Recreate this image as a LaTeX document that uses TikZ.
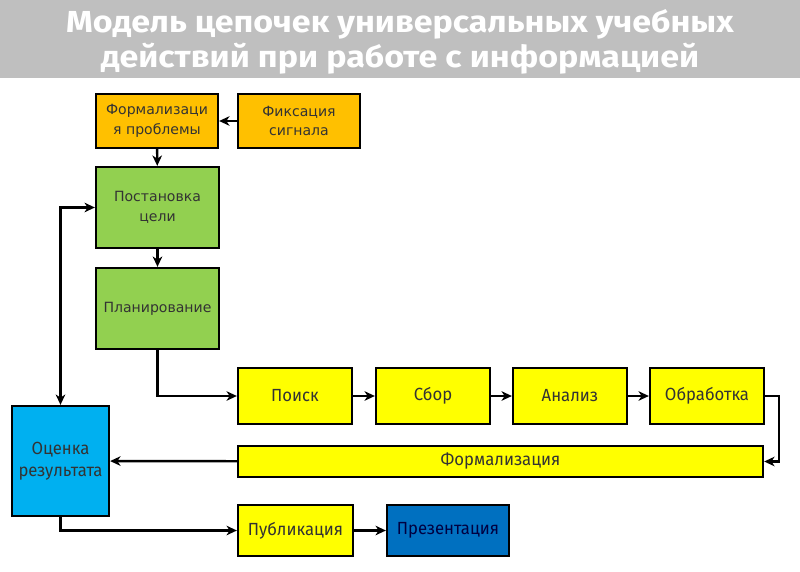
\documentclass[tikz,border=0pt]{standalone}
\usepackage{fontspec}
\setmainfont{DejaVu Sans}
\newfontfamily\condfont[FakeStretch=0.95]{Fira Sans}
\newfontfamily\titlefont[FakeStretch=1.12]{Fira Sans}
\usepackage{xcolor}
\usetikzlibrary{arrows.meta}
\definecolor{band}{HTML}{BFBFBF}
\definecolor{orng}{HTML}{FFC000}
\definecolor{grn}{HTML}{92D050}
\definecolor{ylw}{HTML}{FFFF00}
\definecolor{lblue}{HTML}{00B0F0}
\definecolor{dblue}{HTML}{0070C0}

\begin{document}
\begin{tikzpicture}[x=0.025cm, y=-0.025cm, >={Stealth[length=2.6mm, width=2.4mm, inset=0.8mm]},
    box/.style={shape=rectangle, draw, line width=1.6pt, align=center, inner sep=1pt, text=black!80, font=\fontsize{10}{14}\selectfont},
    cbox/.style={box, font=\condfont\fontsize{12.5}{16}\selectfont},
    arr/.style={line width=1.7pt, ->}]
    \useasboundingbox (0,0) rectangle (800,571);
    \fill[white] (0,0) rectangle (800,571);
    \fill[band] (0,0) rectangle (800,78);
    \node (t1) at (400,33) [anchor=base, text=white, font=\titlefont\bfseries\fontsize{21.6}{26}\selectfont] {Модель цепочек универсальных учебных};
    \node (t2) at (400,68) [anchor=base, text=white, font=\titlefont\bfseries\fontsize{21.6}{26}\selectfont] {действий при работе с информацией};
    % upper column
    \node (fp) at (157,121) [box, fill=orng, minimum width=3.05cm, minimum height=1.35cm] {Формализаци\\я проблемы};
    \node (fs) at (299,121) [box, fill=orng, minimum width=3.05cm, minimum height=1.35cm] {Фиксация\\сигнала};
    \node (pc) at (157.5,207.5) [box, fill=grn, minimum width=3.075cm, minimum height=2.025cm] {Постановка\\цели};
    \node (pl) at (157.5,308.5) [box, fill=grn, minimum width=3.075cm, minimum height=2.025cm] {Планирование};
    % chain
    \node (ps) at (295,396) [cbox, fill=ylw, minimum width=2.85cm, minimum height=1.4cm] {Поиск};
    \node (sb) at (433,396) [cbox, fill=ylw, minimum width=2.85cm, minimum height=1.4cm] {Сбор};
    \node (an) at (570,396) [cbox, fill=ylw, minimum width=2.85cm, minimum height=1.4cm] {Анализ};
    \node (ob) at (707,396) [cbox, fill=ylw, minimum width=2.85cm, minimum height=1.4cm] {Обработка};
    \node (fm) at (500.5,461.5) [cbox, fill=ylw, minimum width=13.125cm, minimum height=0.775cm] {Формализация};
    \node (oc) at (60.5,461) [cbox, fill=lblue, minimum width=2.425cm, minimum height=2.75cm] {Оценка\\результата};
    \node (pb) at (295.5,530.5) [cbox, fill=ylw, minimum width=2.875cm, minimum height=1.275cm] {Публикация};
    \node (pr) at (448,530.5) [cbox, fill=dblue, minimum width=3.05cm, minimum height=1.275cm, text=blue!25!black] {Презентация};
    % arrows
    \draw[arr] (fs) -- (fp);
    \draw[arr] (fp) -- (pc);
    \draw[arr] (pc) -- (pl);
    \draw[arr] (pl.south) |- (ps.west);
    \draw[arr] (ps) -- (sb);
    \draw[arr] (sb) -- (an);
    \draw[arr] (an) -- (ob);
    \draw[arr] (ob.east) -- ++(14,0) |- (fm.east);
    \draw[arr] (fm) -- (oc);
    \draw[arr, <->] (pc.west) -| (oc.north);
    \draw[arr] (oc.south) |- (pb.west);
    \draw[arr] (pb) -- (pr);
\end{tikzpicture}
\end{document}
